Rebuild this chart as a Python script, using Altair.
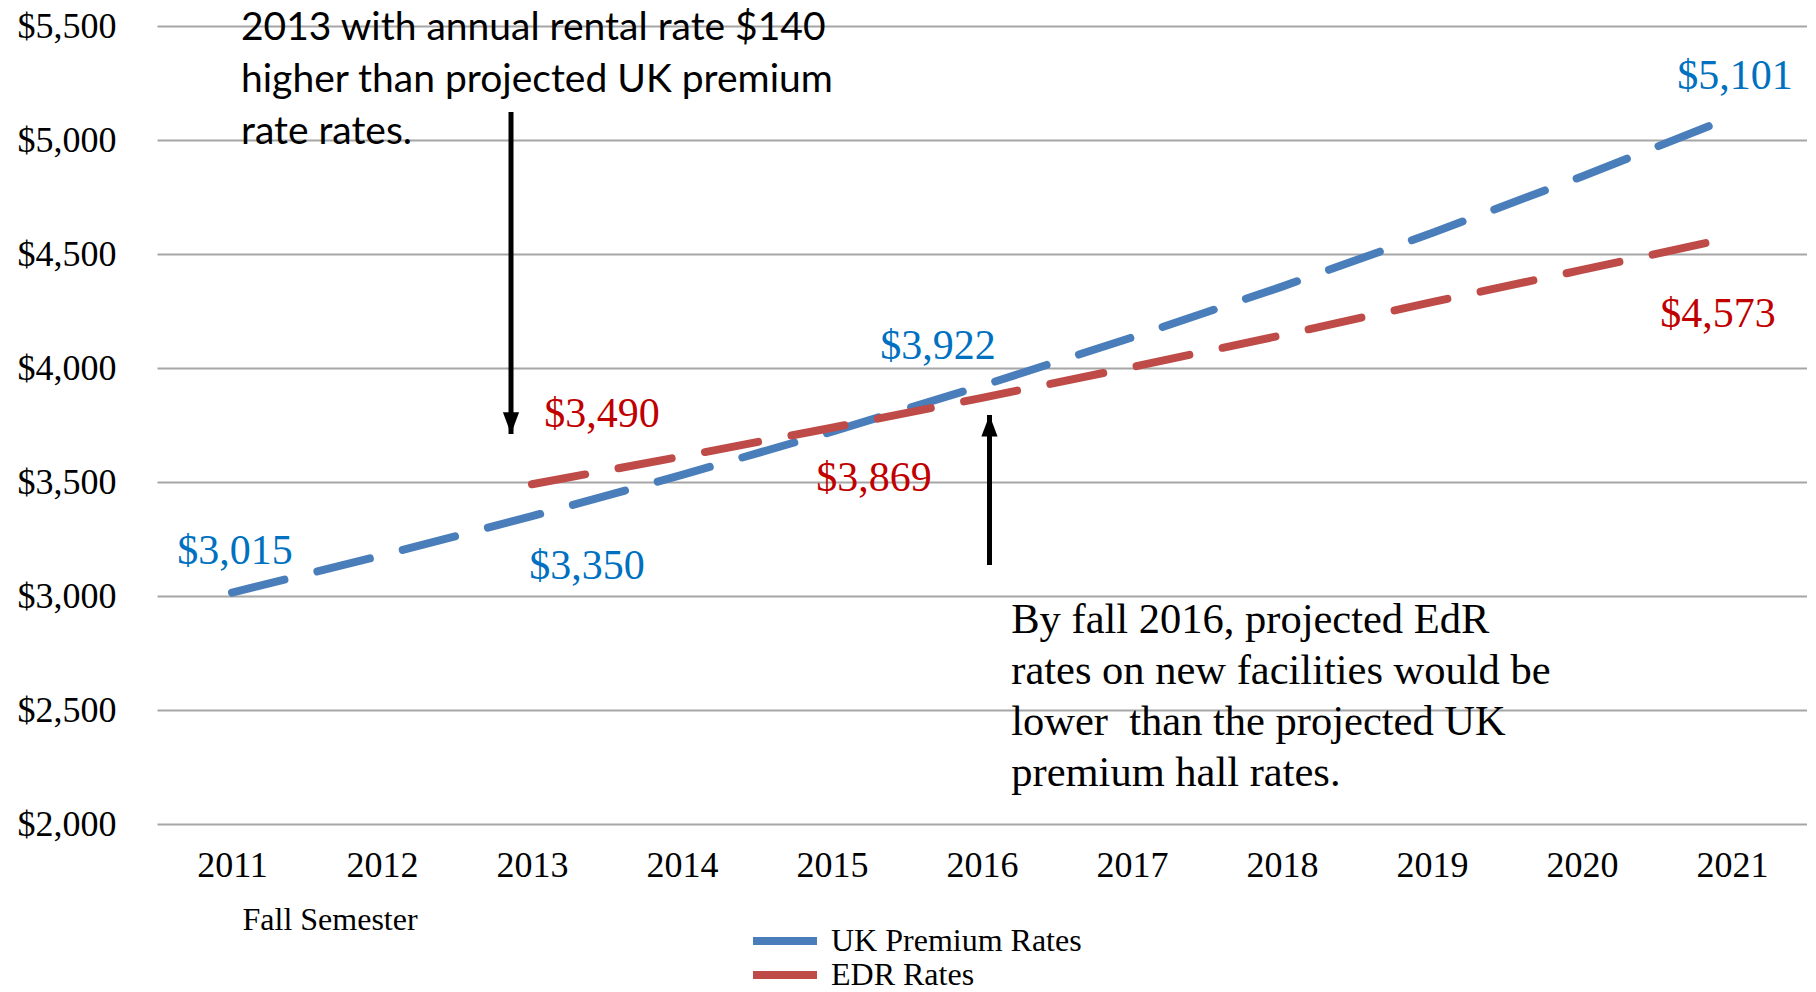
import altair as alt
import pandas as pd

# ---------------- data ----------------
years = [2011, 2012, 2013, 2014, 2015, 2016, 2017, 2018, 2019, 2020, 2021]
uk_premium = [3015, 3178, 3350, 3531, 3721, 3922, 4134, 4357, 4592, 4840, 5101]
edr_years = [2013, 2014, 2015, 2016, 2017, 2018, 2019, 2020, 2021]
edr_rates = [3490, 3612, 3738, 3869, 4004, 4144, 4289, 4430, 4573]
series_names = ["UK Premium Rates", "EDR Rates"]
y_ticks = [2000, 2500, 3000, 3500, 4000, 4500, 5000, 5500]

label_years = [2011, 2013, 2016, 2021, 2013, 2016, 2021]
label_values = [3015, 3350, 3922, 5101, 3490, 3869, 4573]
label_series = ["UK Premium Rates"] * 4 + ["EDR Rates"] * 3

note_top = "2013 with annual rental rate $140\nhigher than projected UK premium\nrate rates."
note_bottom = ("By fall 2016, projected EdR\nrates on new facilities would be\n"
               "lower\u00a0 than the projected UK\npremium hall rates.")
note_x = [2011.06, 2016.195]
note_y = [5491, 2895]

arrow_x = [2012.86, 2016.05]
arrow_from = [5123, 3136]
arrow_to = [3711, 3794]

# ---------------- styles ----------------
line_colors = ["#4A7EBB", "#BE4B48"]
label_colors = {"UK Premium Rates": "#0070C0", "EDR Rates": "#C00000"}
label_offsets = [(3, -42), (55, 50), (-44, -40), (3, -41), (70, -70), (-108, 80), (-14, 77)]
SERIF = "Liberation Serif"

df = pd.DataFrame({
    "year": years + edr_years,
    "value": uk_premium + edr_rates,
    "series": [series_names[0]] * len(years) + [series_names[1]] * len(edr_years),
})

x_scale = alt.Scale(domain=[2010.5, 2021.5], nice=False, zero=False)
y_scale = alt.Scale(domain=[2000, 5500], nice=False, zero=False)

lines = alt.Chart(df).mark_line(
    strokeWidth=8, strokeDash=[54, 34], strokeCap="round"
).encode(
    x=alt.X("year:Q", scale=x_scale, axis=alt.Axis(
        values=years, format="d", grid=False, domain=False, ticks=False,
        labelFont=SERIF, labelFontSize=36, labelColor="black", labelPadding=24,
        title="Fall Semester", titleFont=SERIF, titleFontSize=32,
        titleFontWeight="normal", titleColor="black", titleAnchor="start",
        titleAlign="left", titleBaseline="middle", titleX=85, titleY=95)),
    y=alt.Y("value:Q", scale=y_scale, axis=alt.Axis(
        values=y_ticks, format="$,d", grid=True, gridColor="#A6A6A6", gridWidth=2,
        domain=False, ticks=False, labelFont=SERIF, labelFontSize=36,
        labelColor="black", labelPadding=41, title=None)),
    color=alt.Color("series:N", scale=alt.Scale(domain=series_names, range=line_colors),
                    legend=alt.Legend(
                        title=None, orient="none", legendX=592, legendY=898,
                        direction="vertical", symbolType="stroke", symbolStrokeWidth=8,
                        symbolSize=4096, symbolDash=[1, 0], clipHeight=34,
                        labelFont=SERIF, labelFontSize=32, labelColor="black",
                        labelLimit=500, labelOffset=10, padding=0, rowPadding=0)),
)

layers = [lines]

lab_df = pd.DataFrame({"year": label_years, "value": label_values, "series": label_series})
for i, (dx, dy) in enumerate(label_offsets):
    row = lab_df.iloc[[i]]
    layers.append(
        alt.Chart(row).mark_text(
            font=SERIF, fontSize=42, dx=dx, dy=dy, align="center", baseline="middle",
            color=label_colors[label_series[i]]
        ).encode(x=alt.X("year:Q", scale=x_scale), y=alt.Y("value:Q", scale=y_scale),
                 text=alt.Text("value:Q", format="$,d"))
    )

arr_df = pd.DataFrame({"x": arrow_x, "y1": arrow_from, "y2": arrow_to,
                       "dir": ["down", "up"]})
layers.append(
    alt.Chart(arr_df).mark_rule(color="black", strokeWidth=5, strokeCap="butt").encode(
        x=alt.X("x:Q", scale=x_scale), y=alt.Y("y1:Q", scale=y_scale), y2="y2:Q")
)
layers.append(
    alt.Chart(arr_df[arr_df["dir"] == "down"]).mark_point(
        shape="M-0.9,-2.4L0.9,-2.4L0,0Z", size=324, filled=True, color="black", opacity=1
    ).encode(x=alt.X("x:Q", scale=x_scale), y=alt.Y("y2:Q", scale=y_scale))
)
layers.append(
    alt.Chart(arr_df[arr_df["dir"] == "up"]).mark_point(
        shape="M-0.9,2.4L0.9,2.4L0,0Z", size=324, filled=True, color="black", opacity=1
    ).encode(x=alt.X("x:Q", scale=x_scale), y=alt.Y("y2:Q", scale=y_scale))
)

note_df = pd.DataFrame({"x": note_x, "y": note_y, "text": [note_top, note_bottom],
                        "kind": ["top", "bottom"]})
layers.append(
    alt.Chart(note_df[note_df["kind"] == "top"]).mark_text(
        font="Lato", fontSize=39, lineHeight=52, lineBreak="\n", align="left",
        baseline="middle", color="black"
    ).encode(x=alt.X("x:Q", scale=x_scale), y=alt.Y("y:Q", scale=y_scale), text="text:N")
)
layers.append(
    alt.Chart(note_df[note_df["kind"] == "bottom"]).mark_text(
        font=SERIF, fontSize=42.5, lineHeight=51, lineBreak="\n", align="left",
        baseline="middle", color="black"
    ).encode(x=alt.X("x:Q", scale=x_scale), y=alt.Y("y:Q", scale=y_scale), text="text:N")
)

chart = alt.layer(*layers).properties(
    width=1650, height=798,
    autosize=alt.AutoSizeParams(type="none"),
    padding={"left": 149, "top": 18, "right": 0, "bottom": 166},
    background="white",
).configure_view(stroke=None)

chart.save("out.html", embed_options={"renderer": "svg", "actions": False})
